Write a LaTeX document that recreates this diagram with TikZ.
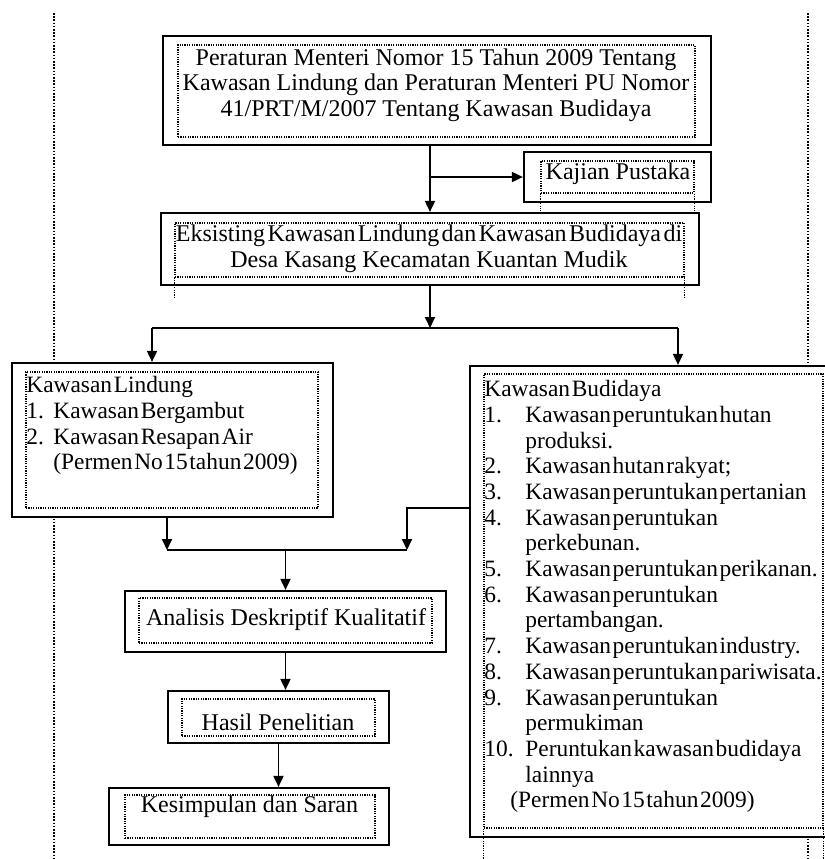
\documentclass[tikz,border=0pt]{standalone}
\usepackage{fontspec}
\setmainfont{Liberation Serif}
\usepackage{tikz}
\usetikzlibrary{arrows.meta, positioning, calc}
\newcommand{\butir}[2][20.5pt]{\makebox[#1][l]{#2}}
\newcommand{\spasirapat}{\spaceskip=0.8pt\relax}
\newcommand{\rapat}[1]{{\spaceskip=1.2pt\relax #1}}

\begin{document}
\begin{tikzpicture}[x=0.5pt, y=-0.5pt,
    font=\fontsize{12}{12.85}\selectfont,
    kotak/.style={draw, line width=1.1pt, fill=white, inner sep=0pt},
    bingkai/.style={draw, line width=0.6pt, dash pattern=on 0.6pt off 0.6pt, inner sep=0pt},
    teks/.style={inner sep=0pt, align=center},
    daftar/.style={inner sep=0pt, align=left, anchor=north west,
        font=\fontsize{11.7}{12.85}\selectfont\spasirapat},
    garis/.style={line width=0.9pt},
    panah/.style={-{Triangle[length=5.5pt, width=5pt]}, line width=0.9pt},
    tepi/.style={line width=0.8pt, dash pattern=on 0.8pt off 0.8pt}]

  \useasboundingbox (0,0) rectangle (825,859);
  \clip (0,0) rectangle (825,859);

  \draw[tepi] (54,13) -- (54,859);
  \draw[tepi] (808,13) -- (808,859);

  \node[kotak, minimum width=274pt, minimum height=54.5pt] (peraturan) at (437,90.5) {};
  \node[bingkai, minimum width=258.5pt, minimum height=46pt] (peraturanF) at (436.5,91) {};
  \node[teks] (peraturanT) at (436,85) {Peraturan Menteri Nomor 15 Tahun 2009 Tentang\\
    Kawasan Lindung dan Peraturan Menteri PU Nomor\\
    41/PRT/M/2007 Tentang Kawasan Budidaya};

  \node[kotak, minimum width=93.5pt, minimum height=25pt] (kajian) at (617.5,177) {};
  \node[bingkai, minimum width=76.5pt, minimum height=16pt] (kajianF) at (617.5,177) {};
  \node[teks] (kajianT) at (618,174) {Kajian Pustaka};

  \node[kotak, minimum width=269pt, minimum height=36pt] (eksisting) at (430,249) {};
  \node[bingkai, minimum width=254.5pt, minimum height=27pt] (eksistingF) at (429.5,250) {};
  \node[teks] (eksistingT) at (429,248.5) {\rapat{Eksisting Kawasan Lindung dan Kawasan Budidaya di}\\
    Desa Kasang Kecamatan Kuantan Mudik};

  \node[kotak, minimum width=160.5pt, minimum height=77pt] (lindung) at (172.5,440) {};
  \node[bingkai, minimum width=146pt, minimum height=68pt] (lindungF) at (172,440) {};
  \node[daftar] (lindungT) at (26,376) {Kawasan Lindung\\
    \butir[13.5pt]{1.}Kawasan Bergambut\\
    \butir[13.5pt]{2.}Kawasan Resapan Air\\
    \butir[13.5pt]{}(Permen No 15 tahun 2009)};

  \node[kotak, minimum width=180pt, minimum height=235.5pt] (budidaya) at (650,601.5) {};
  \node[bingkai, minimum width=169.5pt, minimum height=227pt] (budidayaF) at (653.5,601) {};
  \node[daftar] (budidayaT) at (484,380) {Kawasan Budidaya\\
    \butir{1.}Kawasan peruntukan hutan\\
    \butir{}produksi.\\
    \butir{2.}Kawasan hutan rakyat;\\
    \butir{3.}Kawasan peruntukan pertanian\\
    \butir{4.}Kawasan peruntukan\\
    \butir{}perkebunan.\\
    \butir{5.}Kawasan peruntukan perikanan.\\
    \butir{6.}Kawasan peruntukan\\
    \butir{}pertambangan.\\
    \butir{7.}Kawasan peruntukan industry.\\
    \butir{8.}Kawasan peruntukan pariwisata.\\
    \butir{9.}Kawasan peruntukan\\
    \butir{}permukiman\\
    \butir{10.}Peruntukan kawasan budidaya\\
    \butir{}lainnya\\
    \butir[13pt]{}(Permen No 15 tahun 2009)};

  \node[kotak, minimum width=160.5pt, minimum height=30.5pt] (analisis) at (285.5,621.5) {};
  \node[bingkai, minimum width=146.5pt, minimum height=22.5pt] (analisisF) at (285.5,620.5) {};
  \node[teks] (analisisT) at (286,620) {Analisis Deskriptif Kualitatif};

  \node[kotak, minimum width=110.5pt, minimum height=26pt] (hasil) at (278.5,717) {};
  \node[bingkai, minimum width=96.5pt, minimum height=18.5pt] (hasilF) at (278.5,717.5) {};
  \node[teks] (hasilT) at (278,722) {Hasil Penelitian};

  \node[kotak, minimum width=140pt, minimum height=28.5pt] (kesimpulan) at (249,816.5) {};
  \node[bingkai, minimum width=125pt, minimum height=21.5pt] (kesimpulanF) at (250,816.5) {};
  \node[teks] (kesimpulanT) at (249.5,807) {Kesimpulan dan Saran};

  \coordinate (cabang) at (430,328);
  \coordinate (kiri) at (152,328);
  \coordinate (kanan) at (678,328);
  \coordinate (gabungKiri) at (167,550);
  \coordinate (gabungKanan) at (407,550);

  \draw[panah] (peraturan.south -| eksisting.north) -- (eksisting.north);
  \draw[panah] (kajian.west -| eksisting.north) -- (kajian.west);
  \draw[panah] (eksisting.south) -- (cabang);
  \draw[garis] (kiri) -- (kanan);
  \draw[panah] (kiri) -- (kiri |- lindung.north);
  \draw[panah] (kanan) -- (kanan |- budidaya.north);
  \draw[panah] (gabungKiri |- lindung.south) -- (gabungKiri);
  \draw[panah] (budidaya.west |- 0,508) -| (gabungKanan);
  \draw[garis] (gabungKiri) -- (gabungKanan);
  \draw[panah] (gabungKiri -| analisis.north) -- (analisis.north);
  \draw[panah] (analisis.south) -- (analisis.south |- hasil.north);
  \draw[panah] (hasil.south) -- (hasil.south |- kesimpulan.north);

  \draw[bingkai] (kajianF.south west) -- ++(0,17);
  \draw[bingkai] (kajianF.south east) -- ++(0,17);
  \draw[bingkai] (eksistingF.south west) -- ++(0,21);
  \draw[bingkai] (eksistingF.south east) -- ++(0,21);
  \draw[bingkai] (budidayaF.south west) -- ++(0,31);
  \draw[bingkai] (budidayaF.south east) -- ++(0,31);
\end{tikzpicture}
\end{document}
